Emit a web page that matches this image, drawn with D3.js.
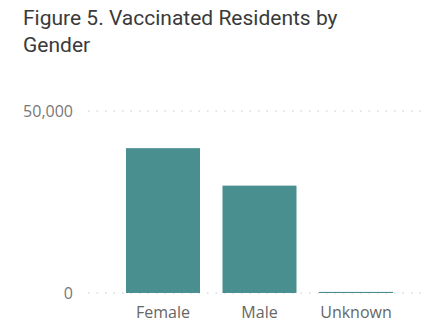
<!DOCTYPE html>
<html><head><meta charset="utf-8">
<script src="https://cdn.jsdelivr.net/npm/d3@7"></script>
<style>body{margin:0;background:#fff}</style>
</head><body>
<svg id="c" width="427" height="328"></svg>
<script>
const categories = ["Female", "Male", "Unknown"];
const values = [39800, 29500, 300];
const yTicks = [0, 50000];
const titleLines = ["Figure 5. Vaccinated Residents by", "Gender"];

const svg = d3.select("#c");
const W = 427, H = 328;
const y = d3.scaleLinear().domain([0, 50000]).range([293, 111]);
const x = d3.scaleBand().domain(categories).range([114.75, 404.25]).paddingInner(0.233).paddingOuter(0.1166);

svg.append("g").selectAll("text").data(titleLines).join("text")
  .attr("x", 23).attr("y", (d,i) => 25 + i*27)
  .attr("font-family", "Roboto, sans-serif").attr("font-weight", 400)
  .attr("font-size", 21).attr("fill", "#3a3a3a")
  .text(d => d);

const yAxis = d3.axisLeft(y).tickValues(yTicks).tickFormat(d3.format(",")).tickSize(0).tickPadding(0);
const ga = svg.append("g").attr("transform", "translate(73,0)").call(yAxis);
ga.select(".domain").remove();
ga.selectAll("text").attr("font-family", "'Open Sans', sans-serif").attr("font-size", 16).attr("fill", "#777");

svg.append("g").selectAll("line").data(yTicks).join("line")
  .attr("x1", 88).attr("x2", W).attr("y1", d => y(d)).attr("y2", d => y(d))
  .attr("stroke", "#c8c8c8").attr("stroke-width", 1).attr("stroke-dasharray", "1.5,7");

svg.append("g").selectAll("rect").data(values).join("rect")
  .attr("x", (d,i) => x(categories[i])).attr("width", x.bandwidth())
  .attr("y", d => y(d)).attr("height", d => y(0) - y(d))
  .attr("fill", "#4a8f90");

const xAxis = d3.axisBottom(x).tickSize(0).tickPadding(0);
const gx = svg.append("g").attr("transform", "translate(0,306.5)").call(xAxis);
gx.select(".domain").remove();
gx.selectAll("text").attr("font-family", "'Open Sans', sans-serif").attr("font-size", 16).attr("fill", "#666");
</script>
</body></html>
